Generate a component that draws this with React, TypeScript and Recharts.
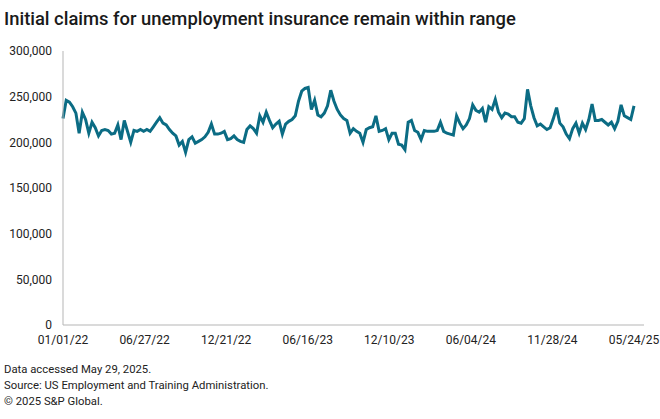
import { LineChart, Line, XAxis, YAxis } from 'recharts';

// Weekly initial claims, week ending 01/01/22 through 05/24/25
const CLAIMS = [
  226000, 246000, 244000, 239000, 232000, 210000, 233000, 225000, 210000, 222000,
  216000, 207000, 213000, 214000, 213000, 209000, 210000, 219000, 203000, 224000,
  212000, 200000, 213000, 212000, 214000, 212000, 214000, 212000, 217000, 222000,
  227000, 221000, 219000, 214000, 210000, 207000, 197000, 201000, 189000, 203000,
  206000, 199000, 201000, 203000, 206000, 211000, 220000, 209000, 209000, 210000,
  212000, 203000, 204000, 207000, 203000, 201000, 200000, 214000, 218000, 215000,
  210000, 229000, 222000, 233000, 224000, 216000, 220000, 223000, 209000, 220000,
  223000, 225000, 229000, 245000, 256000, 259000, 260000, 236000, 246000, 230000,
  228000, 232000, 240000, 257000, 245000, 236000, 230000, 226000, 224000, 210000,
  215000, 212000, 210000, 200000, 214000, 216000, 217000, 229000, 212000, 213000,
  215000, 203000, 210000, 210000, 198000, 197000, 192000, 222000, 224000, 213000,
  211000, 203000, 213000, 212000, 212000, 212000, 213000, 222000, 212000, 210000,
  209000, 208000, 229000, 221000, 215000, 219000, 226000, 241000, 235000, 233000,
  237000, 222000, 239000, 236000, 247000, 233000, 227000, 232000, 231000, 228000,
  228000, 222000, 221000, 226000, 258000, 240000, 227000, 218000, 220000, 217000,
  214000, 216000, 226000, 238000, 221000, 217000, 209000, 204000, 215000, 221000,
  210000, 221000, 214000, 225000, 242000, 224000, 224000, 225000, 222000, 219000,
  222000, 215000, 223000, 241000, 229000, 227000, 225000, 240000,
];

// x-axis ticks, in days since 01/01/22
const TICK_DAYS = [0, 177, 354, 531, 708, 885, 1062, 1239];
const TICK_LABELS = ['01/01/22', '06/27/22', '12/21/22', '06/16/23', '12/10/23', '06/04/24', '11/28/24', '05/24/25'];
const Y_TICKS = [0, 50000, 100000, 150000, 200000, 250000, 300000];

const FOOTNOTES = [
  'Data accessed May 29, 2025.',
  'Source: US Employment and Training Administration.',
  '\u00a9 2025 S&P Global.',
];

const data = CLAIMS.map((v, i) => ({ day: i * 7, claims: v }));

const FONT = 'Roboto, "Noto Sans", sans-serif';

export default function App() {
  return (
    <div style={{ position: 'absolute', left: 0, top: 0, width: 660, height: 419, background: '#fff', fontFamily: FONT, color: '#1a1a1a' }}>
      <div style={{ position: 'absolute', left: 4, top: 8, fontSize: 18.4, fontWeight: 500, whiteSpace: 'nowrap' }}>
        Initial claims for unemployment insurance remain within range
      </div>

      <div style={{ position: 'absolute', left: 0, top: 0 }}>
        <LineChart width={660} height={356} data={data} margin={{ top: 51, right: 16, bottom: 0, left: 0 }}>
          <XAxis
            dataKey="day"
            type="number"
            domain={[0, 1239]}
            ticks={TICK_DAYS}
            tickFormatter={(d: number) => TICK_LABELS[TICK_DAYS.indexOf(d)]}
            padding={{ left: 0, right: 10 }}
            tickLine={false}
            tickSize={0}
            tickMargin={10}
            height={31}
            axisLine={{ stroke: '#b5b5b5' }}
            tick={{ fill: '#222', fontSize: 12, fontFamily: FONT }}
            interval={0}
          />
          <YAxis
            domain={[0, 300000]}
            ticks={Y_TICKS}
            tickFormatter={(v: number) => v.toLocaleString('en-US')}
            tickLine={false}
            tickSize={0}
            tickMargin={11}
            width={63}
            axisLine={{ stroke: '#b5b5b5' }}
            tick={{ fill: '#222', fontSize: 12, fontFamily: FONT }}
            interval={0}
          />
          <Line
            type="linear"
            dataKey="claims"
            stroke="#0b6c84"
            strokeWidth={3}
            dot={false}
            isAnimationActive={false}
          />
        </LineChart>
      </div>

      <div style={{ position: 'absolute', left: 4, top: 362, fontSize: 11.3, lineHeight: '16px', color: '#222' }}>
        {FOOTNOTES.map((t) => (
          <div key={t}>{t}</div>
        ))}
      </div>
    </div>
  );
}
